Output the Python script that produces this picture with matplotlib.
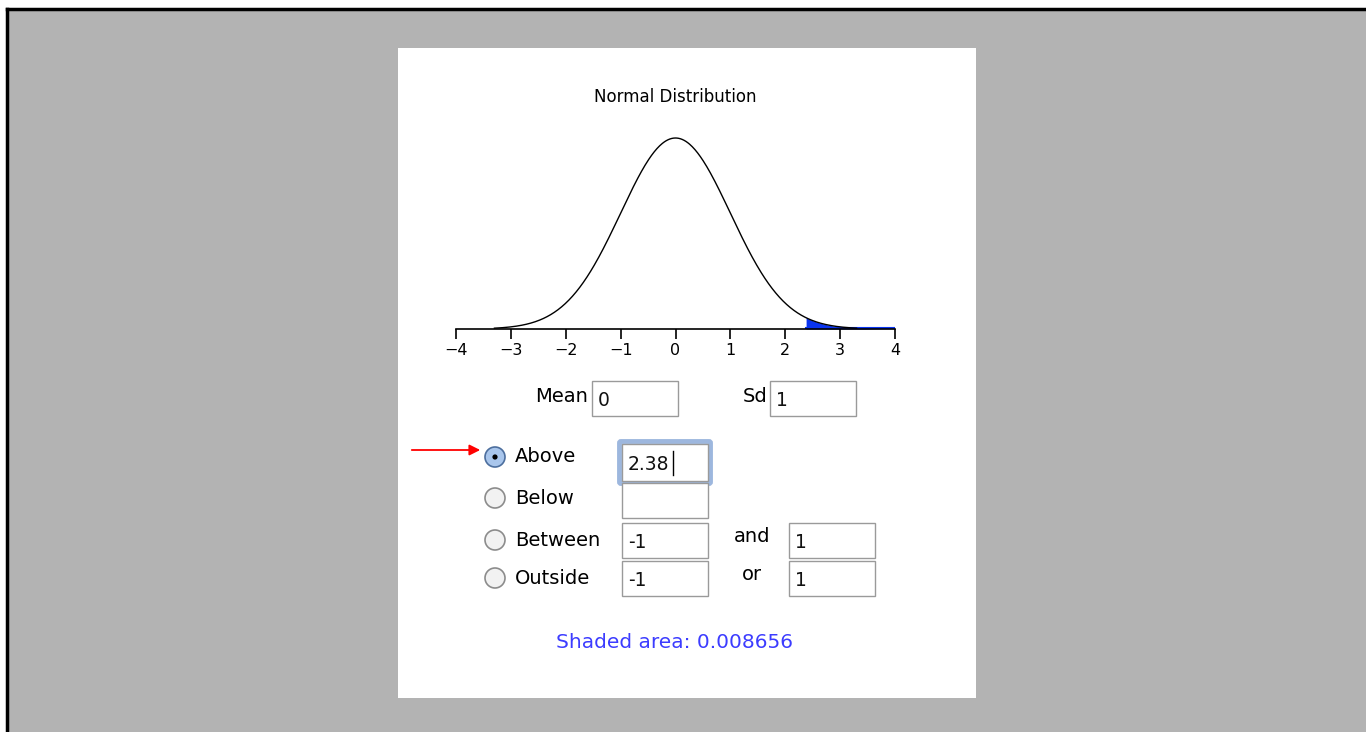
import math
import numpy as np
import matplotlib
matplotlib.use("Agg")
from matplotlib import pyplot as plt
from matplotlib.patches import Rectangle, Circle, FancyBboxPatch

# chart values
mean = 0.0
sd = 1.0
cutoff = 2.38
x_ticks = [-4, -3, -2, -1, 0, 1, 2, 3, 4]
curve_span = 3.3  # curve is drawn out to +-3.3 sd
options = ["Above", "Below", "Between", "Outside"]
selected = "Above"
field_first = ["2.38", "", "-1", "-1"]
field_second = ["", "", "1", "1"]
joiners = ["", "", "and", "or"]
title = "Normal Distribution"

W, H = 1366, 732
fig = plt.figure(figsize=(W / 100, H / 100), dpi=100)
fig.patch.set_facecolor("white")

# UI layer in pixel coords
ui = fig.add_axes([0, 0, 1, 1])
ui.set_xlim(0, W)
ui.set_ylim(H, 0)
ui.axis("off")

ui.add_patch(Rectangle((7, 9), W - 7, H - 9, facecolor="#b3b3b3", edgecolor="none"))
ui.plot([7, W], [9, 9], color="black", lw=2.5)
ui.plot([7, 7], [9, H], color="black", lw=2.5)
ui.add_patch(Rectangle((398, 48), 578, 650, facecolor="white", edgecolor="none"))

ui.text(675, 97, title, ha="center", va="center", fontsize=12, color="black")

def field(x, y, txt, w=86, h=35, focus=False):
    if focus:
        ui.add_patch(FancyBboxPatch((x - 1, y - 1), w + 2, h + 2,
                                    boxstyle="round,pad=1.5", facecolor="white",
                                    edgecolor="#9db7de", lw=3.5))
    ui.add_patch(Rectangle((x, y), w, h, facecolor="white", edgecolor="#9a9a9a", lw=1))
    if txt:
        ui.text(x + 6, y + h / 2 + 2, txt, ha="left", va="center", fontsize=13.5, color="#111111")

ui.text(588, 396, "Mean", ha="right", va="center", fontsize=14)
field(592, 381, str(int(mean)))
ui.text(767, 396, "Sd", ha="right", va="center", fontsize=14)
field(770, 381, str(int(sd)))

rows_y = [457, 498, 540, 578]
box_y = [444, 483, 523, 561]
for i, opt in enumerate(options):
    cy = rows_y[i]
    if opt == selected:
        ui.add_patch(Circle((495, cy), 10, facecolor="#a9c6ec", edgecolor="#4d6f9e", lw=1.2))
        ui.add_patch(Circle((495, cy), 2.6, facecolor="black", edgecolor="none"))
    else:
        ui.add_patch(Circle((495, cy), 10, facecolor="#f2f2f2", edgecolor="#8c8c8c", lw=1.2))
    ui.text(515, cy, opt, ha="left", va="center", fontsize=14)
    field(622, box_y[i], field_first[i], h=37 if i == 0 else 35, focus=(opt == selected))
    if joiners[i]:
        ui.text(752, box_y[i] + 14, joiners[i], ha="center", va="center", fontsize=14)
        field(789, box_y[i], field_second[i])

# text cursor after 2.38
ui.plot([673, 673], [451, 475], color="black", lw=1)

# red arrow
ui.annotate("", xy=(483, 450), xytext=(409, 450),
            arrowprops=dict(arrowstyle="-|>", color="red", lw=1.3, mutation_scale=16))

area = 0.5 * math.erfc((cutoff - mean) / (sd * math.sqrt(2)))
ui.text(675, 643, "Shaded area: %.6f" % area, ha="center", va="center",
        fontsize=14.5, color="#3c3cff")

# distribution plot
ymax = 0.42
pdf_peak = 1 / (sd * math.sqrt(2 * math.pi))
px_h = ymax / pdf_peak * 191
ax = fig.add_axes([456 / W, (H - 329) / H, 439 / W, px_h / H])
ax.patch.set_alpha(0)
xs = np.linspace(mean - curve_span * sd, mean + curve_span * sd, 400)
ys = np.exp(-0.5 * ((xs - mean) / sd) ** 2) * pdf_peak
xf = np.linspace(cutoff, x_ticks[-1], 200)
yf = np.exp(-0.5 * ((xf - mean) / sd) ** 2) * pdf_peak
ax.fill_between(xf, 0, yf, color="#0a34f0", lw=0)
ax.plot([xf[0], xf[-1]], [0.003, 0.003], color="#0a34f0", lw=1.5)
ax.plot(xs, ys, color="black", lw=1)
ax.set_xlim(x_ticks[0], x_ticks[-1])
ax.set_ylim(0, ymax)
ax.set_xticks(x_ticks)
ax.set_xticklabels([str(t).replace("-", "\u2212") for t in x_ticks], fontsize=11.5)
ax.set_yticks([])
for s in ["top", "left", "right"]:
    ax.spines[s].set_visible(False)
ax.spines["bottom"].set_linewidth(1.2)
ax.tick_params(axis="x", direction="out", length=7, width=1.2, pad=3)

fig.savefig("out.png", dpi=100)
